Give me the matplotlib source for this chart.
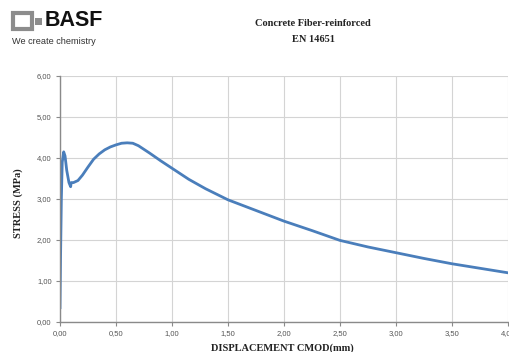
import matplotlib
matplotlib.use("Agg")
import matplotlib.pyplot as plt
from matplotlib.patches import Rectangle
from matplotlib.ticker import FuncFormatter

# Data (CMOD displacement in mm, stress in MPa)
cmod = [0.0, 0.005, 0.012, 0.02, 0.033, 0.045, 0.06, 0.08, 0.095, 0.10, 0.12, 0.16,
        0.20, 0.25, 0.30, 0.35, 0.40, 0.45, 0.50, 0.55, 0.60, 0.65, 0.70, 0.80, 0.90,
        1.00, 1.15, 1.30, 1.50, 1.75, 2.00, 2.25, 2.50, 2.75, 3.00, 3.25, 3.50, 3.75, 4.00]
stress = [0.35, 1.60, 3.00, 3.90, 4.15, 4.05, 3.70, 3.40, 3.30, 3.40, 3.40, 3.45,
          3.58, 3.78, 3.97, 4.10, 4.20, 4.27, 4.32, 4.36, 4.37, 4.36, 4.30, 4.12, 3.93,
          3.75, 3.48, 3.25, 2.98, 2.72, 2.46, 2.23, 1.99, 1.83, 1.69, 1.55, 1.42, 1.31, 1.20]
x_ticks = [0.0, 0.5, 1.0, 1.5, 2.0, 2.5, 3.0, 3.5, 4.0]
y_ticks = [0, 1, 2, 3, 4, 5, 6]
title_lines = ["Concrete Fiber-reinforced", "EN 14651"]
x_label = "DISPLACEMENT CMOD(mm)"
y_label = "STRESS (MPa)"

W, H = 510, 352
fig = plt.figure(figsize=(W / 100, H / 100), dpi=100)
fig.patch.set_facecolor("white")

ax = fig.add_axes([60 / W, 1 - 322 / H, (508 - 60) / W, (322 - 76) / H])
ax.plot(cmod, stress, color="#4a7ebb", lw=2.0, solid_joinstyle="round")
ax.set_xlim(0, 4)
ax.set_ylim(0, 6)
ax.set_xticks(x_ticks)
ax.set_yticks(y_ticks)
fmt = FuncFormatter(lambda v, p: f"{v:.2f}".replace(".", ","))
ax.xaxis.set_major_formatter(fmt)
ax.yaxis.set_major_formatter(fmt)
ax.grid(True, color="#d4d4d4", lw=0.8)
ax.set_axisbelow(True)
for s in ["top", "right"]:
    ax.spines[s].set_visible(False)
for s in ["left", "bottom"]:
    ax.spines[s].set_color("#8a8a8a")
    ax.spines[s].set_linewidth(1.0)
ax.tick_params(axis="both", labelsize=5.5, colors="#8a8a8a", labelcolor="#555555",
               length=3, width=0.8, pad=3)
for lab in ax.get_xticklabels() + ax.get_yticklabels():
    lab.set_fontfamily("Liberation Sans")

serif = "Liberation Serif"
fig.text(313 / W, 1 - 23 / H, title_lines[0], ha="center", va="center",
         fontsize=7.5, fontweight="bold", family=serif, color="#222222")
fig.text(313 / W, 1 - 39 / H, title_lines[1], ha="center", va="center",
         fontsize=7.5, fontweight="bold", family=serif, color="#222222")
fig.text(18 / W, 1 - 203 / H, y_label, ha="center", va="center", rotation=90,
         fontsize=7.5, fontweight="bold", family=serif, color="#222222")
fig.text(282 / W, 1 - 348 / H, x_label, ha="center", va="center",
         fontsize=7.5, fontweight="bold", family=serif, color="#222222")

# BASF logo
fig.patches.append(Rectangle((13 / W, 1 - 29 / H), 19 / W, 16 / H, transform=fig.transFigure,
                             facecolor="white", edgecolor="#8c8c8c", lw=3.0))
fig.patches.append(Rectangle((35 / W, 1 - 25 / H), 7 / W, 7 / H, transform=fig.transFigure,
                             facecolor="#8c8c8c", edgecolor="none"))
fig.text(45 / W, 1 - 21 / H, "BASF", ha="left", va="center", fontsize=15.5,
         fontweight="bold", family="Liberation Sans", color="#111111")
fig.text(12 / W, 1 - 42 / H, "We create chemistry", ha="left", va="center", fontsize=6.6,
         family="Liberation Sans", color="#333333")

fig.savefig("out.png", dpi=100, facecolor="white")
